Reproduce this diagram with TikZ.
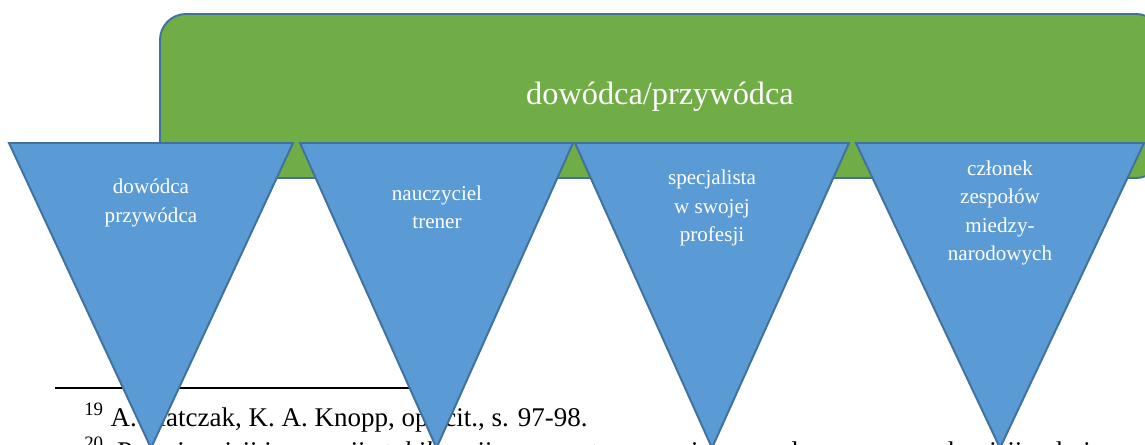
\documentclass[tikz,border=0pt]{standalone}
\usepackage{fontspec}
\setmainfont{Liberation Serif}
\usetikzlibrary{positioning}

\definecolor{leadgreen}{HTML}{70AD47}
\definecolor{roleblue}{HTML}{5B9BD5}
\definecolor{edgeblue}{HTML}{41719C}

\begin{document}
\begin{tikzpicture}[x=0.025cm, y=-0.025cm,
    every node/.style={inner sep=0pt},
    lead/.style={fill=leadgreen, draw=edgeblue, line width=1.4pt, rounded corners=0.65cm},
    role/.style={fill=roleblue, draw=edgeblue, line width=1.4pt, line join=miter},
    roletext/.style={text=white, align=center, font=\fontsize{15}{20}\selectfont},
    foot/.style={anchor=base west, font=\fontsize{19.2}{23}\selectfont}]
    % Page frame
    \useasboundingbox (0,0) rectangle (1145,445);
    % Footnotes (behind the triangles)
    \coordinate (rulestart) at (55,388);
    \coordinate (ruleend) at (430,388);
    \draw[line width=1.3pt] (rulestart) -- (ruleend);
    \node[foot] (fnone) at (84,426) {\textsuperscript{19} A. Płatczak, K. A. Knopp, op. cit., s. 97-98.};
    \node[foot] (fntwo) at (84,460) {\textsuperscript{20}\ \ Pojęcie misji i operacji \textit{stabilizacji} oznacza tu operacje prowadzone w ramach misji pokojowych i};
    % Green bar
    \filldraw[lead] (160,178) rectangle (1162,14);
    \node[text=white, font=\fontsize{23}{28}\selectfont] (leader) at (660,97) {dowódca/przywódca};
    % Triangles
    \foreach \l/\r in {9/293, 300/573, 575/849, 856/1144}
    {
        \filldraw[role] (\l,143) -- (\r,143) -- ({(\l+\r)/2},448) -- cycle;
    }
    % Labels
    \node[roletext] (commander) at (151,203) {dowódca\\przywódca};
    \node[roletext] (teacher) at (437,207) {nauczyciel\\trener};
    \node[roletext] (specialist) at (712,208) {specjalista\\w swojej\\profesji};
    \node[roletext] (member) at (1000,213) {członek\\zespołów\\miedzy-\\narodowych};
\end{tikzpicture}
\end{document}
